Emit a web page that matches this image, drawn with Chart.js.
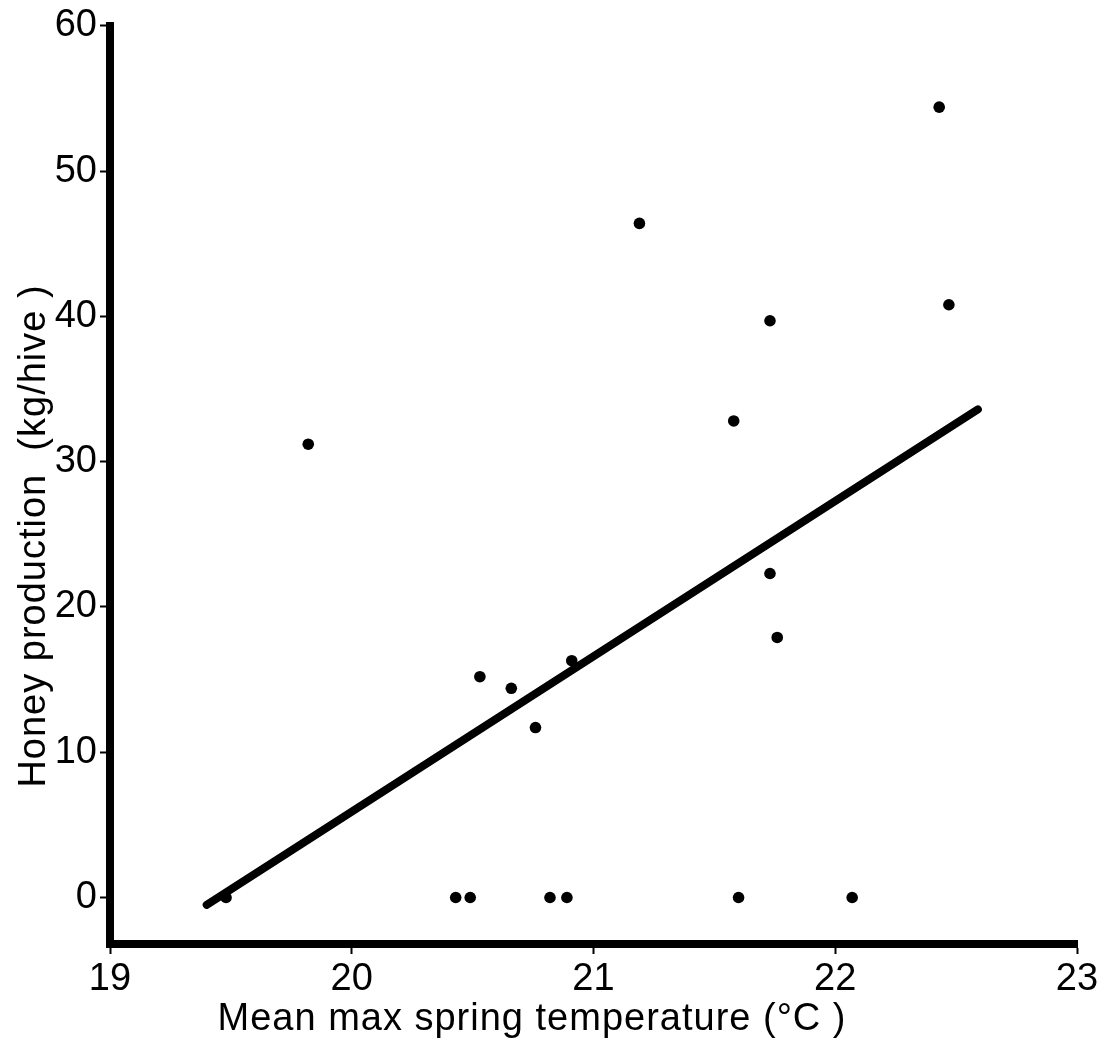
<!DOCTYPE html>
<html>
<head>
<meta charset="utf-8">
<script src="https://cdn.jsdelivr.net/npm/chart.js@4/dist/chart.umd.min.js"></script>
<style>
  html, body { margin: 0; padding: 0; background: #fff; }
  #wrap { width: 1104px; height: 1047px; position: relative; }
</style>
</head>
<body>
<div id="wrap"><canvas id="c"></canvas></div>
<script>
// Data
const temperature = [19.48, 19.82, 20.43, 20.49, 20.53, 20.66, 20.76, 20.82, 20.89, 20.91, 21.19, 21.58, 21.60, 21.73, 21.73, 21.76, 22.07, 22.43, 22.47];
const honey       = [0, 31.2, 0, 0, 15.2, 14.4, 11.7, 0, 0, 16.3, 46.4, 32.8, 0, 39.7, 22.3, 17.9, 0, 54.4, 40.8];
const fitX = [19.40, 22.59];
const fitY = [-0.5, 33.6];
const xTicks = [19, 20, 21, 22, 23];
const yTicks = [0, 10, 20, 30, 40, 50, 60];
const xTitle = 'Mean max spring temperature (°C )';
const yTitle = 'Honey production  (kg/hive )';

const FONT = "'Liberation Sans', Arial, sans-serif";

const titlePlugin = {
  id: 'axisTitles',
  afterDraw(chart) {
    const ctx = chart.ctx;
    ctx.save();
    ctx.fillStyle = '#000';
    ctx.font = '38px ' + FONT;
    if ('letterSpacing' in ctx) ctx.letterSpacing = '1px';
    ctx.textAlign = 'center';
    ctx.textBaseline = 'middle';
    ctx.fillText(xTitle, 532, 1020);
    ctx.translate(35, 536);
    ctx.rotate(-Math.PI / 2);
    ctx.fillText(yTitle, 0, 0);
    ctx.restore();
  }
};

new Chart(document.getElementById('c'), {
  type: 'scatter',
  data: {
    datasets: [
      {
        type: 'line',
        data: fitX.map((x, i) => ({ x, y: fitY[i] })),
        borderColor: '#000',
        borderWidth: 8,
        borderCapStyle: 'round',
        pointRadius: 0,
        fill: false
      },
      {
        data: temperature.map((x, i) => ({ x, y: honey[i] })),
        backgroundColor: '#000',
        borderColor: '#000',
        borderWidth: 0,
        pointRadius: 5.8
      }
    ]
  },
  options: {
    responsive: true,
    maintainAspectRatio: false,
    devicePixelRatio: 1,
    animation: false,
    layout: { padding: { top: 23, right: 27, left: 0, bottom: 0 } },
    plugins: { legend: { display: false }, tooltip: { enabled: false } },
    scales: {
      x: {
        type: 'linear',
        min: 19, max: 23,
        afterFit(s) { s.height = 103; },
        afterBuildTicks(s) { s.ticks = xTicks.map(v => ({ value: v })); },
        border: { display: true, color: '#000', width: 8 },
        grid: { display: true, drawOnChartArea: false, drawTicks: true, tickLength: 10, tickWidth: 2, color: '#000' },
        ticks: { color: '#000', font: { family: FONT, size: 38 }, padding: 3, maxRotation: 0 }
      },
      y: {
        type: 'linear',
        min: -3.2, max: 60,
        afterFit(s) { s.width = 110; },
        afterBuildTicks(s) { s.ticks = yTicks.map(v => ({ value: v })); },
        border: { display: true, color: '#000', width: 8 },
        grid: { display: true, drawOnChartArea: false, drawTicks: true, tickLength: 10, tickWidth: 2, color: '#000' },
        ticks: { color: '#000', font: { family: FONT, size: 38 }, padding: 3 }
      }
    }
  },
  plugins: [titlePlugin]
});
</script>
</body>
</html>
